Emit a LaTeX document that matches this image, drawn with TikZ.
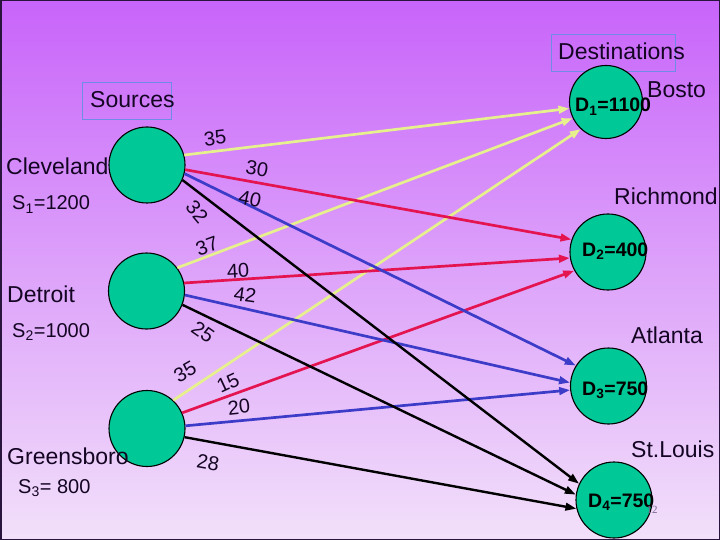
\documentclass[tikz,border=0pt]{standalone}
\usepackage{fontspec}
\setmainfont{Liberation Sans}
\newfontfamily\slidenum{Liberation Serif}
\usetikzlibrary{arrows.meta}
\definecolor{bgtop}{RGB}{200,100,250}
\definecolor{bgbot}{RGB}{242,224,250}
\definecolor{nodegreen}{RGB}{0,200,150}
\definecolor{ylw}{RGB}{230,240,140}
\definecolor{rd}{RGB}{228,20,80}
\definecolor{bl}{RGB}{60,60,200}
\definecolor{boxblue}{RGB}{110,140,230}
\definecolor{frame}{RGB}{40,20,60}
\definecolor{txt}{RGB}{20,5,35}
\begin{document}
\begin{tikzpicture}[x=1pt,y=-1pt,
  city/.style={circle, draw=black, line width=1.1pt, fill=nodegreen, minimum size=76pt, inner sep=0pt},
  cityname/.style={anchor=base west, inner sep=0pt, text=txt, font=\fontsize{23}{26}\selectfont},
  supply/.style={anchor=base west, inner sep=0pt, text=txt, font=\fontsize{20}{24}\selectfont},
  demand/.style={anchor=base west, inner sep=0pt, text=black, font=\bfseries\fontsize{19.5}{24}\selectfont},
  cost/.style={inner sep=0pt, text=txt, font=\fontsize{20}{24}\selectfont},
  titlebox/.style={draw=boxblue, line width=0.8pt, inner sep=0pt},
  flow/.style={line width=2.7pt, -{Triangle[length=11pt,width=7.5pt]}},
  ]
\useasboundingbox (0,0) rectangle (720,540);
\shade[top color=bgtop, bottom color=bgbot] (0,0) rectangle (720,540);
\draw[frame, line width=1.5pt] (0.75,0.75) rectangle (719.25,539.25);

% title boxes
\node[titlebox, minimum width=89pt, minimum height=37pt] (srcbox) at (126.5,101) {};
\node[titlebox, minimum width=124pt, minimum height=37pt] (dstbox) at (613,52.5) {};

% circles
\node[city] (cle) at (147,165) {};
\node[city] (det) at (146.5,291) {};
\node[city] (gre) at (147,428.5) {};
\node[city, minimum size=73pt] (d1) at (606,102) {};
\node[city] (d2) at (608,252) {};
\node[city] (d3) at (608.5,386) {};
\node[city] (d4) at (614,500) {};

% flows to D1 (yellow)
\draw[flow, ylw] (cle.15) -- (d1.190);
\draw[flow, ylw] (det.37) -- (d1.206);
\draw[flow, ylw] (gre.47) -- (d1.227);
% flows to D2 (red)
\draw[flow, rd] (cle.-7) -- (d2.161);
\draw[flow, rd] (det.12) -- (d2.189);
\draw[flow, rd] (gre.24) -- (d2.209);
% flows to D3 (blue)
\draw[flow, bl] (cle.-13) -- (d3.148);
\draw[flow, bl] (det.-6) -- (d3.175);
\draw[flow, bl] (gre.4) -- (d3.186);
% flows to D4 (black)
\draw[flow, black, line width=2.4pt] (cle.-23) -- (d4.155);
\draw[flow, black, line width=2.4pt] (det.-21) -- (d4.172);
\draw[flow, black, line width=2.4pt] (gre.-13) -- (d4.193);

% costs
\node[cost, rotate=7]   (c1)  at (215,138) {35};
\node[cost, rotate=-10] (c2)  at (257,169) {30};
\node[cost, rotate=-12] (c3)  at (250,199) {40};
\node[cost, rotate=-50] (c4)  at (197,212) {32};
\node[cost, rotate=20]  (c5)  at (207,246) {37};
\node[cost, rotate=3]   (c6)  at (238,271) {40};
\node[cost, rotate=-8]  (c7)  at (245,295) {42};
\node[cost, rotate=-35] (c8)  at (203,332) {25};
\node[cost, rotate=30]  (c9)  at (185,372) {35};
\node[cost, rotate=25]  (c10) at (228,383) {15};
\node[cost, rotate=6]   (c11) at (239,407) {20};
\node[cost, rotate=-10] (c12) at (208,463) {28};

% labels
\node[cityname] (srct) at (90,108) {Sources};
\node[cityname] (dstt) at (558,60) {Destinations};
\node[cityname] (clet) at (6,175) {Cleveland};
\node[supply] (s1) at (12,210) {S\textsubscript{1}=1200};
\node[cityname] (dett) at (7,302) {Detroit};
\node[supply] (s2) at (12,337) {S\textsubscript{2}=1000};
\node[cityname] (gret) at (7,464) {Greensboro};
\node[supply] (s3) at (18,493) {S\textsubscript{3}= 800};
\node[cityname] (bost) at (647,98) {Bosto};
\node[cityname] (rict) at (614,205) {Richmond};
\node[cityname] (atlt) at (631,343) {Atlanta};
\node[cityname] (stlt) at (631,457) {St.Louis};
\node[demand] (d1t) at (575,112) {D\textsubscript{1}=1100};
\node[demand] (d2t) at (582,256) {D\textsubscript{2}=400};
\node[demand] (d3t) at (582,395) {D\textsubscript{3}=750};
\node[demand] (d4t) at (588,507) {D\textsubscript{4}=750};
\node[inner sep=0pt, text={rgb,255:red,120;green,100;blue,140}, font=\slidenum\fontsize{11}{12}\selectfont] (pg) at (652,510) {12};
\end{tikzpicture}
\end{document}
